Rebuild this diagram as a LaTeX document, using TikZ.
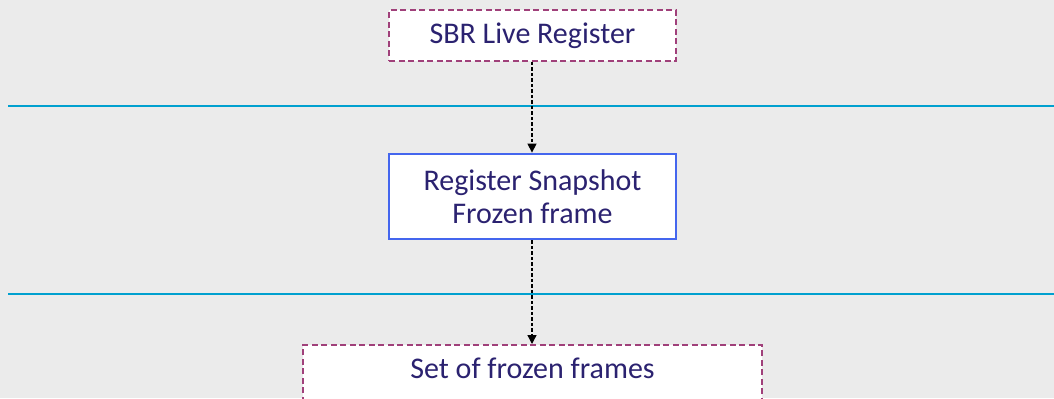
\documentclass[tikz,border=0pt]{standalone}
\usepackage{fontspec}
\setmainfont{Carlito}
\usetikzlibrary{arrows.meta}
\definecolor{bgc}{HTML}{EBEBEB}
\definecolor{txt}{HTML}{2B2270}
\definecolor{purp}{HTML}{A0407A}
\definecolor{bluebox}{HTML}{4466EE}
\definecolor{cyanl}{HTML}{00A0CF}
\tikzset{
  base/.style={fill=white, text=txt, font=\fontsize{30bp}{33bp}\selectfont, align=center, inner sep=0pt},
  dashbox/.style={base, draw=purp, line width=1.5bp, dash pattern=on 6bp off 3.5bp},
  solidbox/.style={base, draw=bluebox, line width=2.8bp},
  sep/.style={draw=cyanl, line width=2bp},
  conn/.style={draw=black, line width=1.3bp, dash pattern=on 3.5bp off 2bp, -{Triangle[length=9bp,width=9bp]}}
}
\begin{document}
\begin{tikzpicture}[x=1bp,y=-1bp]
\useasboundingbox (0,0) rectangle (1054,398);
\fill[bgc] (0,0) rectangle (1054,398);
\clip (0,0) rectangle (1054,398);
\coordinate (l1a) at (8,105.5);
\coordinate (l1b) at (1054,105.5);
\coordinate (l2a) at (8,294);
\coordinate (l2b) at (1054,294);
\draw[sep] (l1a) -- (l1b);
\draw[sep] (l2a) -- (l2b);
\node[dashbox, minimum width=287bp, minimum height=51bp] (live) at (532.5,35.5) {SBR Live Register};
\node[solidbox, minimum width=287bp, minimum height=85bp] (snap) at (532.5,196.5) {Register Snapshot\\Frozen frame};
\node[dashbox, anchor=north, minimum width=459bp, text height=34bp, text depth=60bp] (set) at (532.5,344) {Set of frozen frames};
\draw[conn] (live.south -| 532,0) -- (snap.north -| 532,0);
\draw[conn] (snap.south -| 532,0) -- (set.north -| 532,0);
\end{tikzpicture}
\end{document}
